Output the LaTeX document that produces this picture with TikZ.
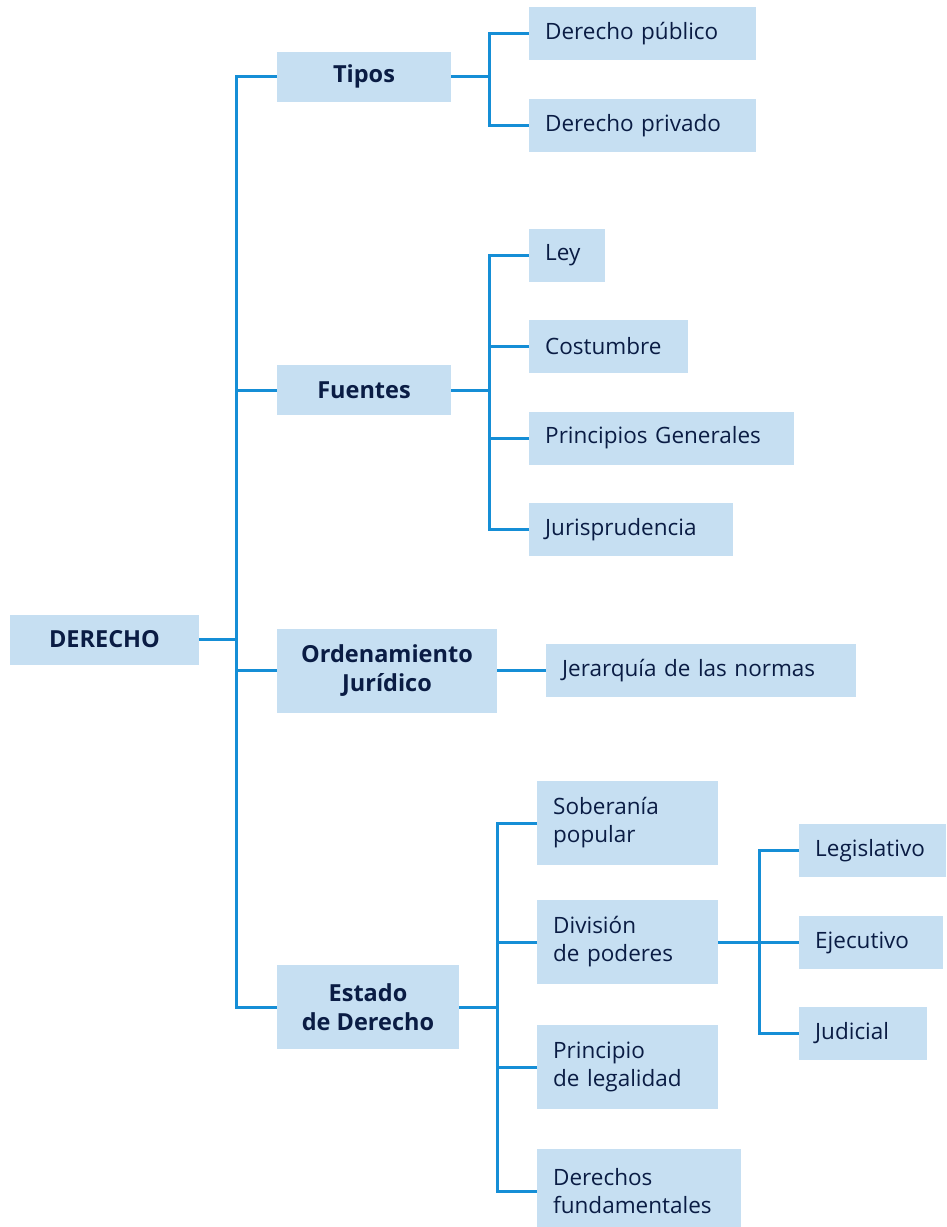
\documentclass[tikz,border=0pt]{standalone}
\usepackage{fontspec}
\setmainfont{Open Sans}
\definecolor{boxfill}{RGB}{198,223,242}
\definecolor{linkblue}{RGB}{21,142,214}
\definecolor{ink}{RGB}{10,28,68}
\begin{document}
\begin{tikzpicture}[x=1pt,y=-1pt,
  base/.style={fill=boxfill, draw=none, text=ink, font=\fontsize{22.5}{28}\selectfont, inner ysep=0pt},
  head/.style={base, font=\fontsize{23.5}{29}\selectfont\bfseries, align=center, inner xsep=0pt},
  leaf/.style={base, anchor=west, align=left, inner xsep=16pt},
  link/.style={draw=linkblue, line width=3pt}
]
\useasboundingbox (0,0) rectangle (946,1227);

% first level
\node[head, minimum width=189pt, minimum height=50pt] (derecho) at (104.5,639.5) {DERECHO};
\node[head, minimum width=174pt, minimum height=50pt] (tipos) at (364,76.5) {Tipos};
\node[head, minimum width=174pt, minimum height=50pt] (fuentes) at (364,390) {Fuentes};
\node[head, minimum width=220pt, minimum height=84pt] (orden) at (387,670.5) {Ordenamiento\\Jurídico};
\node[head, minimum width=182pt, minimum height=84pt] (estado) at (368,1007) {Estado\\de Derecho};

% Tipos
\node[leaf, text width=195pt, minimum height=53pt] (dpub) at (529,33.5) {Derecho público};
\node[leaf, text width=195pt, minimum height=53pt] (dpriv) at (529,125.5) {Derecho privado};

% Fuentes
\node[leaf, text width=44pt, minimum height=53pt] (ley) at (529,255) {Ley};
\node[leaf, text width=127pt, minimum height=53pt] (costumbre) at (529,346.5) {Costumbre};
\node[leaf, text width=233pt, minimum height=53pt] (principios) at (529,438) {Principios Generales};
\node[leaf, text width=172pt, minimum height=53pt] (juris) at (529,529.5) {Jurisprudencia};

% Ordenamiento
\node[leaf, text width=278pt, minimum height=53pt] (jerarquia) at (546,670.5) {Jerarquía de las normas};

% Estado de Derecho
\node[leaf, text width=149pt, minimum height=84pt] (soberania) at (537,823) {Soberanía\\popular};
\node[leaf, text width=149pt, minimum height=84pt] (division) at (537,942) {División\\de poderes};
\node[leaf, text width=149pt, minimum height=84pt] (legalidad) at (537,1067) {Principio\\de legalidad};
\node[leaf, text width=172pt, minimum height=84pt] (fundam) at (537,1191) {Derechos\\fundamentales};

% División de poderes
\node[leaf, text width=115pt, minimum height=53pt] (legis) at (799,850.5) {Legislativo};
\node[leaf, text width=112pt, minimum height=53pt] (ejec) at (799,942.5) {Ejecutivo};
\node[leaf, text width=96pt, minimum height=53pt] (judicial) at (799,1033.5) {Judicial};

% spine junctions
\coordinate (s0) at (236,639.5);
\coordinate (s1) at (489,76.5);
\coordinate (s2) at (489,390);
\coordinate (s3) at (497,1007);
\coordinate (s4) at (759,942);

% connectors
\draw[link] (derecho.east) -- (s0);
\draw[link] (tipos.west) -- (tipos.west -| s0) |- (estado.west);
\draw[link] (fuentes.west) -- (fuentes.west -| s0);
\draw[link] (orden.west) -- (orden.west -| s0);

\draw[link] (tipos.east) -- (s1);
\draw[link] (dpub.west) -- (dpub.west -| s1) |- (dpriv.west);

\draw[link] (fuentes.east) -- (s2);
\draw[link] (ley.west) -- (ley.west -| s2) |- (juris.west);
\draw[link] (costumbre.west) -- (costumbre.west -| s2);
\draw[link] (principios.west) -- (principios.west -| s2);

\draw[link] (orden.east) -- (jerarquia.west);

\draw[link] (estado.east) -- (s3);
\draw[link] (soberania.west) -- (soberania.west -| s3) |- (fundam.west);
\draw[link] (division.west) -- (division.west -| s3);
\draw[link] (legalidad.west) -- (legalidad.west -| s3);

\draw[link] (division.east) -- (s4);
\draw[link] (legis.west) -- (legis.west -| s4) |- (judicial.west);
\draw[link] (ejec.west) -- (ejec.west -| s4);
\end{tikzpicture}
\end{document}
